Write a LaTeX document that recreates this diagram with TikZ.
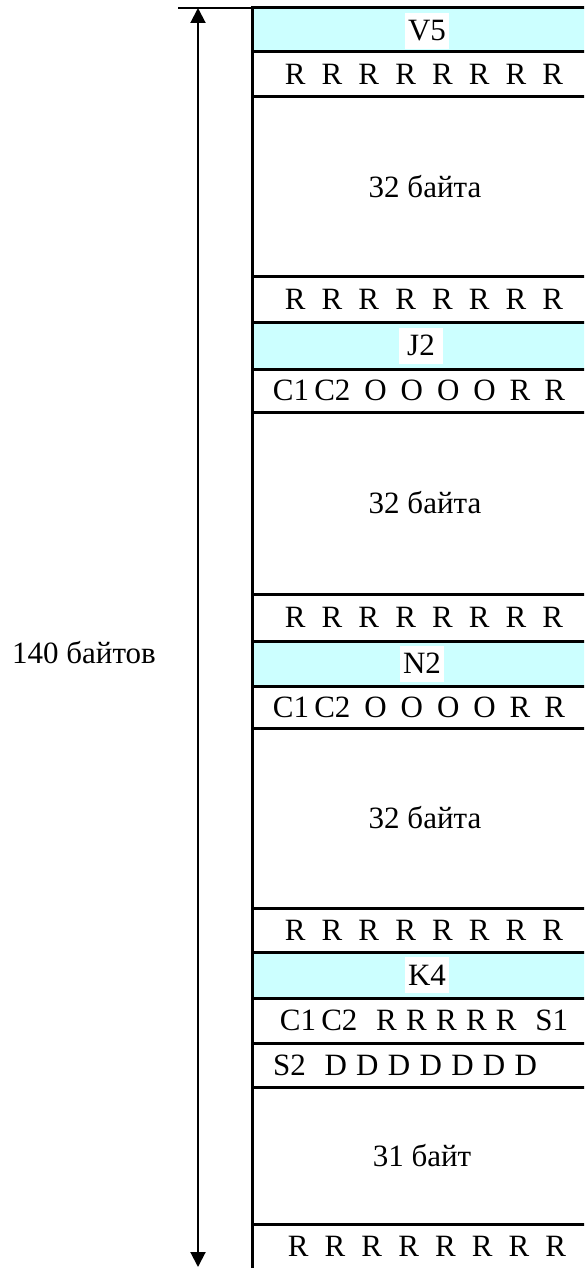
\documentclass[tikz,border=0pt]{standalone}
\usepackage{fontspec}
\setmainfont{Liberation Serif}
\usetikzlibrary{arrows.meta}
\definecolor{ptrcyan}{HTML}{CCFFFF}
\newcommand{\rowfont}[1]{\fontsize{31}{36}\selectfont\spaceskip #1em\relax}
\tikzset{
  sepline/.style={line width=3pt},
  ptrlabel/.style={fill=white,inner sep=0pt,minimum width=44pt,minimum height=36pt},
  bitrow/.style={font={\rowfont{0.52}}},
  bitrowo/.style={font={\rowfont{0.45}}},
  bitrowmid/.style={font={\rowfont{0.3}}},
}
\begin{document}
\begin{tikzpicture}[x=1pt,y=-1pt,font=\fontsize{31}{36}\selectfont]
        \useasboundingbox (0,0) rectangle (584,1268);
        \clip (0,0) rectangle (584,1268);
        % 色付きの行
        \fill[ptrcyan] (252,8) rectangle (600,52);
        \fill[ptrcyan] (252,322) rectangle (600,369);
        \fill[ptrcyan] (252,641) rectangle (600,686);
        \fill[ptrcyan] (252,952) rectangle (600,998);
        % 区切り線
        \draw[line width=1.5pt] (178,8) -- (252,8);
        \foreach \y in {8,52,97,276,322,369,412,594,641,686,728,908,952,998,1043,1087,1224}
            \draw[sepline] (252,\y) -- (600,\y);
        \draw[sepline] (252,6.5) -- (252,1280);
        % ポインタ
        \node[ptrlabel] (V5) at (427,31) {V5};
        \node[ptrlabel] (J2) at (421,345.5) {J2};
        \node[ptrlabel] (N2) at (422,663.5) {N2};
        \node[ptrlabel] (K4) at (427,975) {K4};
        % バイトの行
        \node[bitrow] (r1) at (424,74.5) {R R R R R R R R};
        \node (d1) at (425,186.5) {32 байта};
        \node[bitrow] (r2) at (424,299) {R R R R R R R R};
        \node[bitrowo] (c1) at (419,390.5) {C1\,C2 O O O O R R};
        \node (d2) at (425,503) {32 байта};
        \node[bitrow] (r3) at (424,617.5) {R R R R R R R R};
        \node[bitrowo] (c2) at (419,707) {C1\,C2 O O O O R R};
        \node (d3) at (425,818) {32 байта};
        \node[bitrow] (r4) at (424,930) {R R R R R R R R};
        \node[bitrowmid] (c3) at (424,1020.5) {C1\,C2~ R R R R R~ S1};
        \node[bitrowmid,anchor=west,inner sep=0pt] (s2) at (273,1065) {S2~ D D D D D D D};
        \node (d4) at (422,1155.5) {31 байт};
        \node[bitrow] (r5) at (427,1246) {R R R R R R R R};
        % 全体の長さ
        \coordinate (atop) at (198,8);
        \coordinate (abot) at (198,1267);
        \draw[{Triangle[length=15pt,width=15pt]}-{Triangle[length=15pt,width=15pt]},line width=2pt] (atop) -- (abot);
        \node[anchor=base west,inner sep=0pt] (total) at (12,663) {140 байтов};
\end{tikzpicture}
\end{document}
